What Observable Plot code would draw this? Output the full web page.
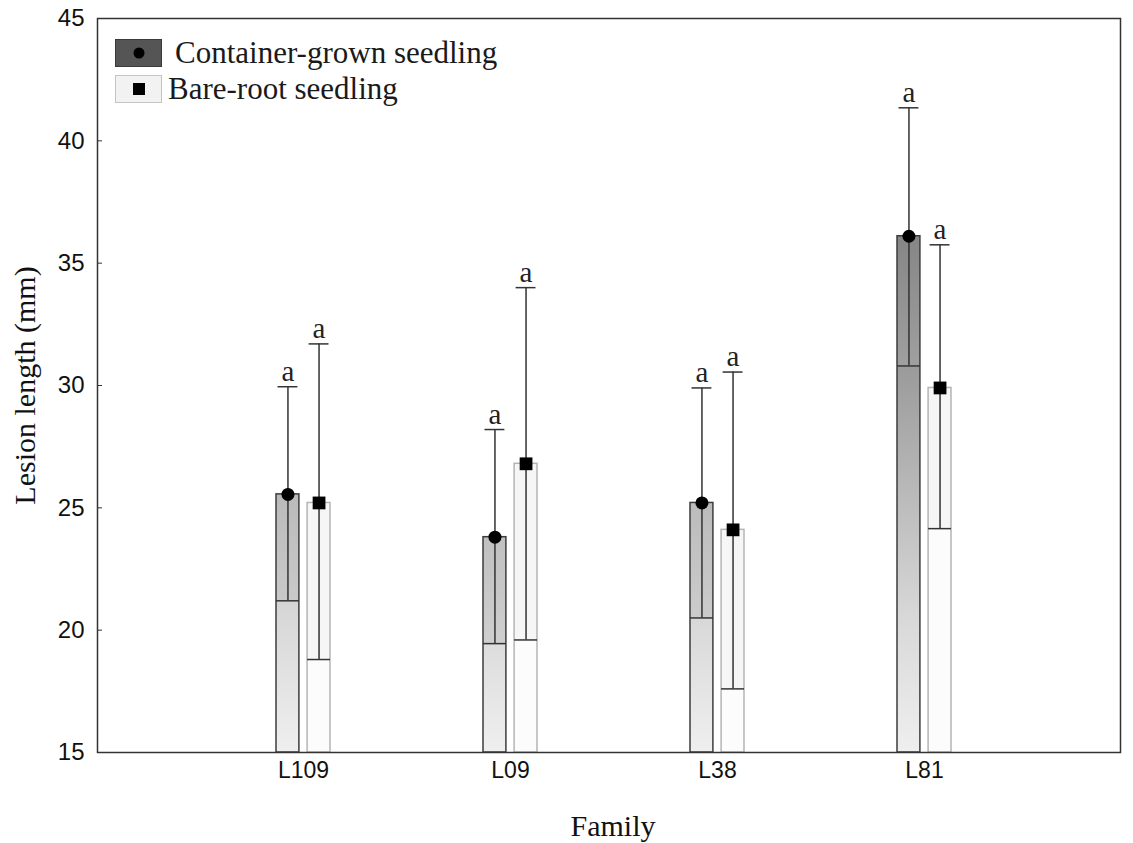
<!DOCTYPE html>
<html>
<head>
<meta charset="utf-8">
<script src="https://cdn.jsdelivr.net/npm/d3@7"></script>
<script src="https://cdn.jsdelivr.net/npm/@observablehq/plot@0.6"></script>
<style>
  html, body { margin: 0; padding: 0; background: #fff; }
  #wrap { position: relative; width: 1133px; height: 843px; }
  .legend { position: absolute; left: 115px; font-family: "Liberation Serif", serif; font-size: 31px; color: #1a1a1a; display: flex; align-items: center; }
  .sw { width: 47px; height: 28px; box-sizing: border-box; position: relative; }
  .sw span { position: absolute; left: 50%; top: 50%; transform: translate(-50%, -50%); background: #000; }
</style>
</head>
<body>
<div id="wrap"></div>
<script>
// ---- data ----
const families = ["L109", "L09", "L38", "L81"];
const containerMean = [25.55, 23.8, 25.2, 36.1];
const containerLow  = [21.2, 19.45, 20.5, 30.8];
const containerHigh = [29.95, 28.2, 29.9, 41.35];
const containerLetter = ["a", "a", "a", "a"];
const bareMean = [25.2, 26.8, 24.1, 29.9];
const bareLow  = [18.8, 19.6, 17.6, 24.15];
const bareHigh = [31.7, 34.0, 30.55, 35.75];
const bareLetter = ["a", "a", "a", "a"];
const yTicks = [15, 20, 25, 30, 35, 40, 45];
const seriesNames = ["Container-grown seedling", "Bare-root seedling"];

const yMin = yTicks[0], yMax = yTicks[yTicks.length - 1];
const container = families.map((f, i) => ({family: f, mean: containerMean[i], low: containerLow[i], high: containerHigh[i], letter: containerLetter[i]}));
const bare = families.map((f, i) => ({family: f, mean: bareMean[i], low: bareLow[i], high: bareHigh[i], letter: bareLetter[i]}));

const serif = "Liberation Serif";
const sans = "Liberation Sans";
const dark = "#333";

const series = (data, o) => [
  Plot.barY(data, {x: "family", y1: yMin, y2: "low", fill: o.lowerFill, insetLeft: o.bl, insetRight: o.br}),
  Plot.barY(data, {x: "family", y1: "low", y2: "mean", fill: o.boxFill, insetLeft: o.bl, insetRight: o.br}),
  Plot.barY(data, {x: "family", y1: yMin, y2: "mean", fill: "none", stroke: o.barStroke, strokeWidth: 1.5, insetLeft: o.bl, insetRight: o.br}),
  Plot.tickY(data, {x: "family", y: "low", stroke: dark, strokeWidth: 1.5, insetLeft: o.bl, insetRight: o.br}),
  Plot.ruleX(data, {x: "family", y1: "low", y2: "high", dx: o.dx, stroke: dark, strokeWidth: 1.5}),
  Plot.tickY(data, {x: "family", y: "high", stroke: dark, strokeWidth: 1.5, insetLeft: o.cl, insetRight: o.cr}),
  Plot.dot(data, {x: "family", y: "mean", dx: o.dx, symbol: o.symbol, r: o.r, fill: "#000", stroke: "none"}),
  Plot.text(data, {x: "family", y: "high", text: "letter", dx: o.dx, dy: -6, lineAnchor: "bottom", fontFamily: serif, fontSize: 29, fill: "#222"})
];

const chart = Plot.plot({
  width: 1133,
  height: 843,
  marginLeft: 97,
  marginRight: 13,
  marginTop: 18,
  marginBottom: 91,
  style: {background: "#fff", color: "#111", fontFamily: sans},
  x: {domain: families, type: "band", paddingInner: 0.7, paddingOuter: 0.821, align: 0.515},
  y: {domain: [yMin, yMax]},
  marks: [
    ...series(container, {lowerFill: "url(#cLower)", boxFill: "url(#cBox)", barStroke: "#3c3c3c", bl: 4, br: 35.1, cl: 5.5, cr: 36.6, dx: -15.55, symbol: "circle", r: 6.5}),
    ...series(bare, {lowerFill: "#fcfcfc", boxFill: "#f6f6f6", barStroke: "#b5b5b5", bl: 35.1, br: 4, cl: 36.6, cr: 5.5, dx: 15.55, symbol: "square", r: 7.2}),
    Plot.frame({stroke: dark, strokeWidth: 1.5}),
    Plot.axisY({ticks: yTicks, tickSize: 5, dx: 5, tickPadding: 13, fontSize: 24, fontFamily: sans, label: null, stroke: dark}),
    Plot.axisX({tickSize: 0, tickPadding: 9, fontSize: 23, fontFamily: sans, label: null}),
    Plot.text(["Lesion length (mm)"], {frameAnchor: "left", text: d => d, rotate: -90, dx: -72, textAnchor: "middle", lineAnchor: "middle", fontFamily: serif, fontSize: 30, fill: "#111"}),
    Plot.text(["Family"], {frameAnchor: "bottom", text: d => d, dx: 4, dy: 74, lineAnchor: "middle", fontFamily: serif, fontSize: 30, fill: "#111"})
  ]
});

// gradients in plot (user space) coordinates, using the chart's y scale
const ys = chart.scale("y");
const yTop = ys.apply(yMax), yBot = ys.apply(yMin);
const off = v => (ys.apply(v) - yTop) / (yBot - yTop);
const defs = d3.select(chart).insert("defs", ":first-child");
function grad(id, stops) {
  const g = defs.append("linearGradient").attr("id", id).attr("gradientUnits", "userSpaceOnUse")
    .attr("x1", 0).attr("x2", 0).attr("y1", yTop).attr("y2", yBot);
  stops.sort((a, b) => off(a[0]) - off(b[0])).forEach(([v, c]) => g.append("stop").attr("offset", off(v)).attr("stop-color", c));
}
grad("cLower", [[15, "#efefef"], [20.5, "#d8d8d8"], [30.8, "#9a9a9a"], [45, "#555555"]]);
grad("cBox", [[15, "#dedede"], [25, "#bcbcbc"], [36, "#868686"], [45, "#5c5c5c"]]);

const wrap = document.getElementById("wrap");
wrap.appendChild(chart);

// legend inside the frame
const legendItems = [
  {name: seriesNames[0], bg: "#555", border: "#3a3a3a", mark: "circle", top: 38, gap: 13},
  {name: seriesNames[1], bg: "#f2f2f2", border: "#c4c4c4", mark: "square", top: 74, gap: 6}
];
legendItems.forEach(it => {
  const row = document.createElement("div");
  row.className = "legend";
  row.style.top = it.top + "px";
  const sw = document.createElement("div");
  sw.className = "sw";
  sw.style.background = it.bg;
  sw.style.border = "1.5px solid " + it.border;
  sw.style.marginRight = it.gap + "px";
  const m = document.createElement("span");
  m.style.width = it.mark === "circle" ? "11px" : "12px";
  m.style.height = it.mark === "circle" ? "11px" : "12px";
  m.style.borderRadius = it.mark === "circle" ? "50%" : "0";
  sw.appendChild(m);
  const t = document.createElement("span");
  t.textContent = it.name;
  t.style.lineHeight = "30px";
  row.appendChild(sw);
  row.appendChild(t);
  wrap.appendChild(row);
});
</script>
</body>
</html>
